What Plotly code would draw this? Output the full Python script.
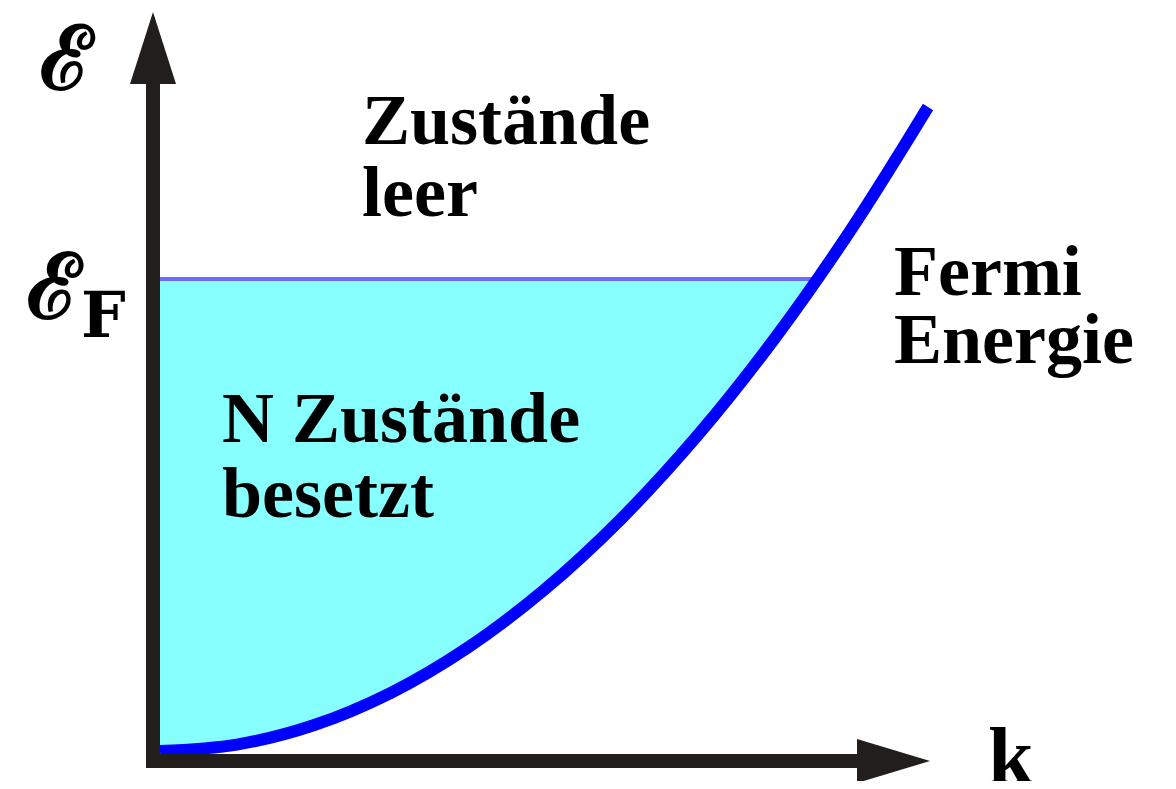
import plotly.graph_objects as go

# ── data ────────────────────────────────────────────────────────────────────
k_vals = [0.0, 0.1, 0.2, 0.3, 0.4, 0.5, 0.6, 0.7, 0.8, 0.9, 1.0]
e_vals = [0.0, 0.01, 0.04, 0.09, 0.16, 0.25, 0.36, 0.49, 0.64, 0.81, 1.0]
k_fermi = 0.856
e_fermi = 0.733

TXT_FONT = "Liberation Serif"
AXIS_COL = "#211E1B"

# page body has an 8px margin -> shrink the figure and shift the ranges
OFF = 8
W, H = 1176 - 2 * OFF, 789 - 2 * OFF


def px_k(x):
    return (x - 160) / 768


def px_e(y):
    return (751 - y) / 644


# filled region below the Fermi level
fill_k = [k for k in k_vals if k < k_fermi] + [k_fermi, 0.0]
fill_e = [e for k, e in zip(k_vals, e_vals) if k < k_fermi] + [e_fermi, e_fermi]

fig = go.Figure()
fig.add_trace(go.Scatter(
    x=fill_k, y=fill_e, mode="lines", fill="toself",
    fillcolor="#88FFFF", line=dict(width=0),
    hoverinfo="skip",
))
fig.add_trace(go.Scatter(
    x=[0.0, k_fermi], y=[e_fermi, e_fermi], mode="lines",
    line=dict(color="#6B6BFF", width=4), hoverinfo="skip",
))
fig.add_trace(go.Scatter(
    x=k_vals, y=e_vals, mode="lines",
    line=dict(color="#0000FF", width=12, shape="spline"),
    hoverinfo="skip",
))

# ── axes as thick arrows ─────────────────────────────────────────────────────
ax_k = px_k(153)   # vertical axis position (k)
ax_e = px_e(761)   # horizontal axis position (E)
fig.add_shape(type="path",
              path=f"M{ax_k},{px_e(82)} L{ax_k},{ax_e} L{px_k(860)},{ax_e}",
              line=dict(color=AXIS_COL, width=14), layer="above")
fig.add_shape(type="path",
              path=(f"M{ax_k},{px_e(12)} L{px_k(130)},{px_e(84)} "
                    f"L{px_k(176)},{px_e(84)} Z"),
              fillcolor=AXIS_COL, line=dict(width=0), layer="above")
fig.add_shape(type="path",
              path=(f"M{px_k(930)},{ax_e} L{px_k(857)},{px_e(739)} "
                    f"L{px_k(857)},{px_e(783)} Z"),
              fillcolor=AXIS_COL, line=dict(width=0), layer="above")


# ── labels ───────────────────────────────────────────────────────────────────
def label(text, x, y, size=72, xanchor="left", family=TXT_FONT):
    fig.add_annotation(
        text=text, x=px_k(x), y=px_e(y), xref="x", yref="y", showarrow=False,
        xanchor=xanchor, yanchor="middle",
        font=dict(family=family, size=size, color="black"),
    )


label("<b>Zustände</b>", 360, 120)
label("<b>leer</b>", 360, 192)
label("<b>N Zustände</b>", 220, 418)
label("<b>besetzt</b>", 220, 493)
label("<b>Fermi</b>", 892, 271)
label("<b>Energie</b>", 892, 339)
label("<b>k</b>", 1011, 756, size=82, xanchor="center")
label("<b>ℰ</b>", 68, 58, size=88, xanchor="center", family="DejaVu Serif")
label("<b>ℰ</b><sub><b>F</b></sub>", 76, 292, size=90,
      xanchor="center", family="DejaVu Serif")

fig.update_layout(
    width=W, height=H,
    margin=dict(l=0, r=0, t=0, b=0),
    paper_bgcolor="white", plot_bgcolor="white",
    showlegend=False,
    xaxis=dict(range=[px_k(OFF), px_k(OFF + W)], visible=False, fixedrange=True),
    yaxis=dict(range=[px_e(OFF + H), px_e(OFF)], visible=False, fixedrange=True),
)

fig.write_html("out.html")
